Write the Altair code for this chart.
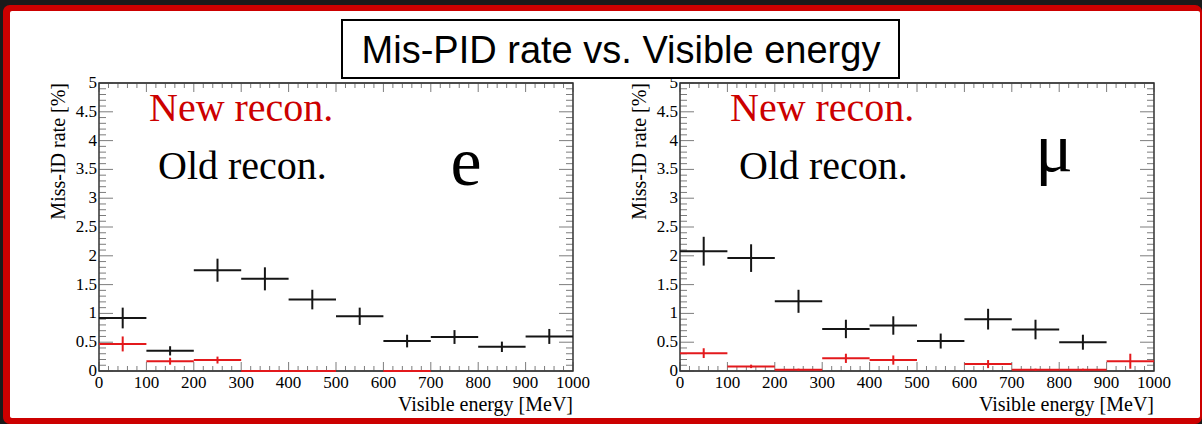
import altair as alt
import pandas as pd

# ---------------- data ----------------
bin_low = [0, 100, 200, 300, 400, 500, 600, 700, 800, 900]
bin_high = [100, 200, 300, 400, 500, 600, 700, 800, 900, 1000]

# electron sample
e_old_rate = [0.92, 0.35, 1.75, 1.60, 1.24, 0.95, 0.52, 0.59, 0.42, 0.60]
e_old_err = [0.18, 0.08, 0.20, 0.20, 0.17, 0.15, 0.11, 0.12, 0.09, 0.13]
e_new_rate = [0.47, 0.17, 0.19, 0.0, 0.0, None, 0.0, None, None, None]
e_new_err = [0.13, 0.06, 0.06, 0.0, 0.0, None, 0.0, None, None, None]

# muon sample
mu_old_rate = [2.08, 1.96, 1.21, 0.73, 0.79, 0.52, 0.90, 0.72, 0.50, None]
mu_old_err = [0.25, 0.24, 0.20, 0.16, 0.16, 0.13, 0.18, 0.17, 0.13, None]
mu_new_rate = [0.31, 0.08, 0.02, 0.22, 0.19, None, 0.12, 0.02, 0.02, 0.17]
mu_new_err = [0.085, 0.03, 0.02, 0.08, 0.08, None, 0.07, 0.02, 0.02, 0.13]

series_names = ["Old recon.", "New recon."]
series_colors = ["#151515", "#e3191c"]

x_major = [0, 100, 200, 300, 400, 500, 600, 700, 800, 900, 1000]
x_major_labels = ["0", "100", "200", "300", "400", "500", "600", "700", "800", "900", "1000"]
x_minor = [v for v in range(0, 1001, 20) if v % 100 != 0]
y_major = [0, 0.5, 1, 1.5, 2, 2.5, 3, 3.5, 4, 4.5, 5]
y_major_labels = ["0", "0.5", "1", "1.5", "2", "2.5", "3", "3.5", "4", "4.5", "5"]
y_minor = [round(i * 0.1, 1) for i in range(51) if i % 5 != 0]

title_text = "Mis-PID rate vs. Visible energy"
x_title = "Visible energy [MeV]"
y_title = "Miss-ID rate [%]"

SERIF = "Liberation Serif"
SANS = "Liberation Sans"
ONE = pd.DataFrame({"a": [0]})


def bar_rows(rates, errs, series):
    rows = []
    for lo, hi, r, e in zip(bin_low, bin_high, rates, errs):
        if r is None:
            continue
        rows.append(dict(lo=lo, hi=hi, mid=(lo + hi) / 2, val=r,
                         ylo=max(r - e, 0), yhi=r + e, series=series))
    return rows


def panel(old_rate, old_err, new_rate, new_err, x0, x1, particle, part_x, part_y):
    xs = alt.Scale(domain=[0, 1000], range=[x0, x1], nice=False, zero=False)
    ys = alt.Scale(domain=[0, 5], range=[371, 83], nice=False, zero=False)
    color = alt.Color("series:N", scale=alt.Scale(domain=series_names, range=series_colors), legend=None)

    df = pd.DataFrame(bar_rows(old_rate, old_err, series_names[0]) +
                      bar_rows(new_rate, new_err, series_names[1]))

    X = lambda f: alt.X(f, scale=xs, axis=None)
    Y = lambda f: alt.Y(f, scale=ys, axis=None)
    XD = lambda v: alt.XDatum(v, type="quantitative", scale=xs, axis=None)
    YD = lambda v: alt.YDatum(v, type="quantitative", scale=ys, axis=None)

    frame = alt.Chart(ONE).mark_rect(fillOpacity=0, stroke="#111111", strokeWidth=1.3).encode(
        x=XD(0), x2=alt.X2Datum(1000), y=YD(0), y2=alt.Y2Datum(5))

    xmaj = pd.DataFrame({"v": x_major, "lab": x_major_labels})
    xmin = pd.DataFrame({"v": x_minor})
    ymaj = pd.DataFrame({"v": y_major, "lab": y_major_labels})
    ymin = pd.DataFrame({"v": y_minor})
    tc = "#444444"
    ticks = [
        alt.Chart(xmaj).mark_tick(orient="vertical", size=9, thickness=1, yOffset=-4.5, color=tc).encode(x=X("v:Q"), y=YD(0)),
        alt.Chart(xmin).mark_tick(orient="vertical", size=5, thickness=1, yOffset=-2.5, color=tc).encode(x=X("v:Q"), y=YD(0)),
        alt.Chart(xmaj).mark_tick(orient="vertical", size=9, thickness=1, yOffset=4.5, color=tc).encode(x=X("v:Q"), y=YD(5)),
        alt.Chart(xmin).mark_tick(orient="vertical", size=5, thickness=1, yOffset=2.5, color=tc).encode(x=X("v:Q"), y=YD(5)),
        alt.Chart(ymaj).mark_tick(orient="horizontal", size=14, thickness=1, xOffset=7, color=tc).encode(y=Y("v:Q"), x=XD(0)),
        alt.Chart(ymin).mark_tick(orient="horizontal", size=7, thickness=1, xOffset=3.5, color=tc).encode(y=Y("v:Q"), x=XD(0)),
        alt.Chart(ymaj).mark_tick(orient="horizontal", size=14, thickness=1, xOffset=-7, color=tc).encode(y=Y("v:Q"), x=XD(1000)),
        alt.Chart(ymin).mark_tick(orient="horizontal", size=7, thickness=1, xOffset=-3.5, color=tc).encode(y=Y("v:Q"), x=XD(1000)),
    ]
    xlabels = alt.Chart(xmaj).mark_text(font=SERIF, fontSize=17, baseline="top", align="center", yOffset=4, color="#000").encode(
        x=X("v:Q"), y=YD(0), text="lab:N")
    ylabels = alt.Chart(ymaj).mark_text(font=SERIF, fontSize=17, baseline="middle", align="right", xOffset=-2, color="#000").encode(
        y=Y("v:Q"), x=XD(0), text="lab:N")
    xtitle = alt.Chart(ONE).mark_text(font=SERIF, fontSize=20, baseline="alphabetic", align="right", yOffset=40, color="#000").encode(
        x=XD(1000), y=YD(0), text=alt.value(x_title))
    ytitle = alt.Chart(ONE).mark_text(font=SERIF, fontSize=20, baseline="middle", align="right", angle=270, xOffset=-40, color="#000").encode(
        x=XD(0), y=YD(5), text=alt.value(y_title))

    hbars = alt.Chart(df).mark_rule(strokeWidth=2).encode(x=X("lo:Q"), x2="hi:Q", y=Y("val:Q"), color=color)
    vbars = alt.Chart(df).mark_rule(strokeWidth=2).encode(x=X("mid:Q"), y=Y("ylo:Q"), y2="yhi:Q", color=color)

    new_lab = alt.Chart(ONE).mark_text(font=SERIF, fontSize=40, align="left", baseline="alphabetic", color="#cc0000").encode(
        x=alt.value(x0 + 50), y=alt.value(121), text=alt.value("New recon."))
    old_lab = alt.Chart(ONE).mark_text(font=SERIF, fontSize=40, align="left", baseline="alphabetic", color="#000000").encode(
        x=alt.value(x0 + 59), y=alt.value(179), text=alt.value("Old recon."))
    part = alt.Chart(ONE).mark_text(font=SERIF, fontSize=70, align="center", baseline="alphabetic", color="#000000").encode(
        x=alt.value(part_x), y=alt.value(part_y), text=alt.value(particle))

    return alt.layer(frame, *ticks, xlabels, ylabels, xtitle, ytitle, hbars, vbars, new_lab, old_lab, part)


# ---------------- slide decorations ----------------
red_frame = alt.Chart(ONE).mark_rect(color="#cc0000", cornerRadius=7).encode(
    x=alt.value(3), x2=alt.value(1202), y=alt.value(5), y2=alt.value(424))
white_area = alt.Chart(ONE).mark_rect(color="#ffffff", cornerRadius=2).encode(
    x=alt.value(10), x2=alt.value(1200), y=alt.value(11), y2=alt.value(418))
title_box = alt.Chart(ONE).mark_rect(fill="#ffffff", stroke="#000000", strokeWidth=2).encode(
    x=alt.value(342), x2=alt.value(899), y=alt.value(20), y2=alt.value(78))
title = alt.Chart(ONE).mark_text(font=SANS, fontSize=38, align="center", baseline="alphabetic", color="#000000").encode(
    x=alt.value(621), y=alt.value(63), text=alt.value(title_text))

left = panel(e_old_rate, e_old_err, e_new_rate, e_new_err, 99, 573, "e", 466, 185)
right = panel(mu_old_rate, mu_old_err, mu_new_rate, mu_new_err, 680, 1154, "μ", 1054, 171)

chart = alt.layer(red_frame, white_area, title_box, title, left, right).resolve_scale(
    x="independent", y="independent"
).properties(
    width=1202, height=424, autosize="none", padding=0, background="#1a1a1a"
).configure_view(stroke="transparent")

chart.save("out.html", embed_options={"renderer": "svg", "actions": False})
